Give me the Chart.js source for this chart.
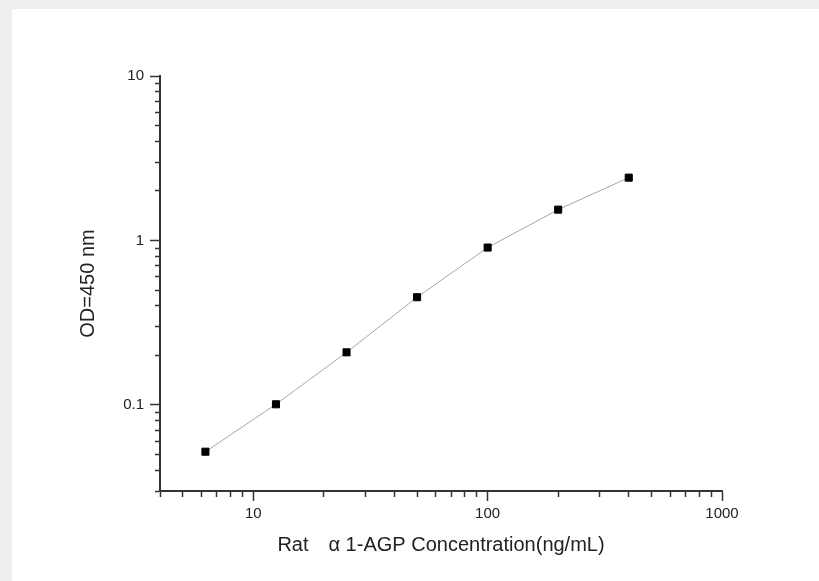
<!DOCTYPE html>
<html><head><meta charset="utf-8">
<script src="https://cdn.jsdelivr.net/npm/chart.js@4/dist/chart.umd.min.js"></script>
<style>
html,body{margin:0;padding:0;background:#eeeeee;width:819px;height:581px;overflow:hidden;}
#panel{position:absolute;left:12px;top:9px;width:807px;height:572px;background:#ffffff;}
#wrap{position:absolute;left:0;top:0;width:819px;height:581px;}
</style></head><body>
<div id="panel"></div>
<div id="wrap"><canvas id="c" width="819" height="581"></canvas></div>
<script>
// ---- data ----
const concentrations = [6.25, 12.5, 25, 50, 100, 200, 400];
const odValues = [0.052, 0.101, 0.209, 0.452, 0.906, 1.54, 2.41];

// ---- axis ticks ----
const xTickValues = [4,5,6,7,8,9,10,20,30,40,50,60,70,80,90,100,200,300,400,500,600,700,800,900,1000];
const xMajorTicks = [10, 100, 1000];
const yTickValues = [0.03,0.04,0.05,0.06,0.07,0.08,0.09,0.1,0.2,0.3,0.4,0.5,0.6,0.7,0.8,0.9,1,2,3,4,5,6,7,8,9,10];
const yMajorTicks = [0.1, 1, 10];

const xTitle = 'Rat\u3000\u03b1 1-AGP Concentration(ng/mL)';
const yTitle = 'OD=450 nm';

const FONT = "'Liberation Sans', Arial, sans-serif";
const isMajor = (list, v) => list.some(m => Math.abs(m - v) / m < 1e-9);
const buildTicks = (values, majors) => values.map(v => ({ value: v, major: isMajor(majors, v) }));

const points = concentrations.map((x, i) => ({ x: x, y: odValues[i] }));

new Chart(document.getElementById('c'), {
  type: 'scatter',
  data: {
    datasets: [{
      data: points,
      showLine: true,
      borderColor: '#a6a6a6',
      borderWidth: 1,
      pointStyle: 'rect',
      pointRadius: 5,
      pointHoverRadius: 5,
      pointBackgroundColor: '#000000',
      pointBorderColor: '#000000',
      pointBorderWidth: 1
    }]
  },
  options: {
    responsive: false,
    animation: false,
    devicePixelRatio: 1,
    layout: { padding: { left: 76, top: 76, right: 97, bottom: 24 } },
    plugins: { legend: { display: false }, tooltip: { enabled: false } },
    scales: {
      x: {
        type: 'logarithmic',
        position: 'bottom',
        min: 4, max: 1000,
        afterBuildTicks: s => { s.ticks = buildTicks(xTickValues, xMajorTicks); },
        afterFit: s => { s.height = 66; },
        grid: {
          display: true, drawOnChartArea: false, drawTicks: true,
          tickLength: 10, tickColor: '#333333', tickWidth: 1.5,
          tickBorderDash: c => (c.tick && c.tick.major) ? [] : [5, 100]
        },
        border: { display: true, color: '#333333', width: 2 },
        ticks: {
          autoSkip: false, maxRotation: 0, padding: 4, color: '#222222',
          font: { family: FONT, size: 15 },
          callback: (v, i, t) => (t[i] && t[i].major) ? String(v) : ''
        },
        title: { display: true, text: xTitle, color: '#222222', font: { family: FONT, size: 20 }, padding: { top: 0, bottom: 0 } }
      },
      y: {
        type: 'logarithmic',
        position: 'left',
        min: 0.03, max: 10,
        afterBuildTicks: s => { s.ticks = buildTicks(yTickValues, yMajorTicks); },
        afterFit: s => { s.width = 84; },
        grid: {
          display: true, drawOnChartArea: false, drawTicks: true,
          tickLength: 10, tickColor: '#333333', tickWidth: 1.5,
          tickBorderDash: c => (c.tick && c.tick.major) ? [] : [0, 5, 5, 100]
        },
        border: { display: true, color: '#333333', width: 2 },
        ticks: {
          autoSkip: false, padding: 6, color: '#222222',
          font: { family: FONT, size: 15 },
          callback: (v, i, t) => (t[i] && t[i].major) ? String(v) : ''
        },
        title: { display: true, text: yTitle, color: '#222222', font: { family: FONT, size: 20 }, padding: { top: 0, bottom: 0 } }
      }
    }
  }
});
</script>
</body></html>
